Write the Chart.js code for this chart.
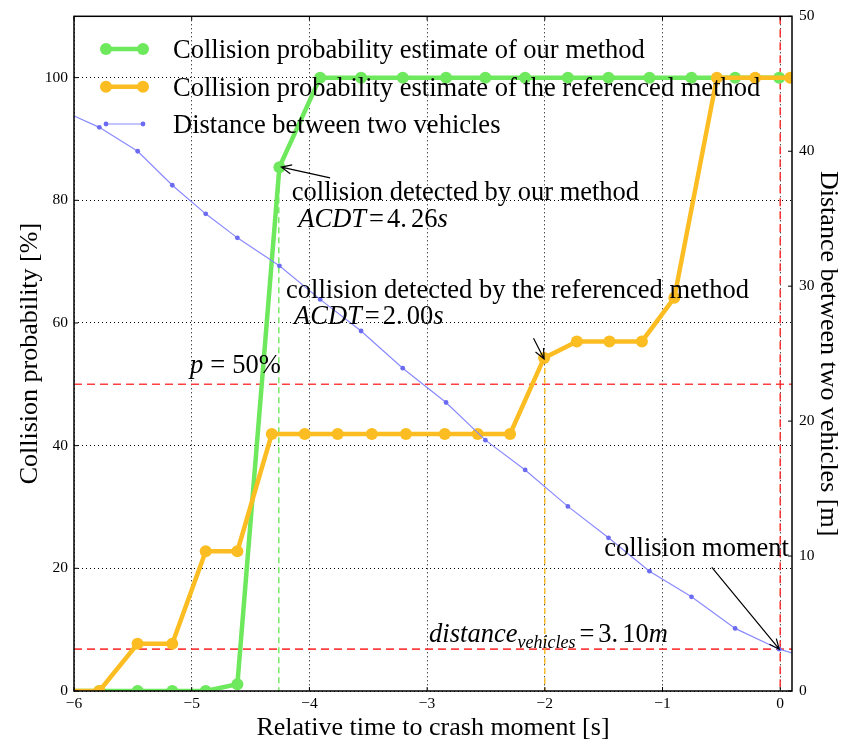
<!DOCTYPE html>
<html>
<head>
<meta charset="utf-8">
<script src="https://cdn.jsdelivr.net/npm/chart.js@4.4.0/dist/chart.umd.min.js"></script>
<style>
  html, body { margin: 0; padding: 0; background: #fff; }
  canvas { display: block; }
</style>
</head>
<body>
<canvas id="crash-chart" width="848" height="744"></canvas>
<script>
var
	// time stamps shared by our estimate and the distance log [s]
	timeSteps = [-6.07, -5.785, -5.459, -5.165, -4.881, -4.612, -4.255, -3.909, -3.561, -3.207,
		-2.839, -2.505, -2.167, -1.804, -1.459, -1.111, -0.754, -0.383, -0.009, 0.36],
	probOurs = [0, 0, 0, 0, 0, 1.1, 85.4, 100, 100, 100,
		100, 100, 100, 100, 100, 100, 100, 100, 100, 100],
	distanceVals = [42.9, 41.77, 40.0, 37.48, 35.36, 33.58, 31.51, 29.02, 26.68, 23.92,
		21.38, 18.59, 16.38, 13.68, 11.35, 8.88, 6.98, 4.64, 3.10, 2.2],
	// the referenced method reports on its own clock
	timeRef = [-6.07, -5.785, -5.46, -5.165, -4.881, -4.612, -4.32, -4.04, -3.76, -3.47, -3.18,
		-2.85, -2.57, -2.295, -2.006, -1.728, -1.451, -1.175, -0.90, -0.538, -0.213, 0.085],
	probRef = [0, 0, 7.7, 7.7, 22.8, 22.8, 41.9, 41.9, 41.9, 41.9, 41.9,
		41.9, 41.9, 41.9, 54.3, 57.0, 57.0, 57.0, 64.1, 100, 100, 100],
	seriesLabels = [
		"Collision probability estimate of our method",
		"Collision probability estimate of the referenced method",
		"Distance between two vehicles"
	],
	timeRange = [-6, 0.1], timeStep = 1,
	probRange = [0, 110], probStep = 20,
	distRange = [0, 50], distStep = 10,
	thresholdProb = 50, thresholdDist = 3.10,
	detectOurs = -4.26, detectRef = -2.0;

var
	green = "#6ee85c",
	orange = "#fbbd22",
	blue = "#8a8aff",
	blueDot = "#6b6bf2",
	red = "rgba(255, 30, 30, 0.85)",
	serif = '"Liberation Serif", "Times New Roman", serif',
	textSize = 26.5;

function toPoints(xs, ys) {
	return xs.map(function (x, i) { return { x: x, y: ys[i] }; });
}

function minusLabel(v) {
	return v < 0 ? "\u2212" + Math.abs(v) : String(v);
}

// mixed roman / italic strings, the way mathtext sets them
function drawRich(ctx, x, y, parts) {
	parts.forEach(function (p) {
		var size = p.size || textSize;
		ctx.font = (p.italic ? "italic " : "") + size + "px " + serif;
		x += p.before || 0;
		ctx.fillText(p.text, x, y + (p.dy || 0));
		x += ctx.measureText(p.text).width + (p.after || 0);
	});
}

function arrow(ctx, x1, y1, x2, y2) {
	var a = Math.atan2(y2 - y1, x2 - x1), len = 11, spread = 0.42;
	ctx.beginPath();
	ctx.moveTo(x1, y1);
	ctx.lineTo(x2, y2);
	ctx.moveTo(x2 - len * Math.cos(a - spread), y2 - len * Math.sin(a - spread));
	ctx.lineTo(x2, y2);
	ctx.lineTo(x2 - len * Math.cos(a + spread), y2 - len * Math.sin(a + spread));
	ctx.stroke();
}

var guideLines = {
	id: "guideLines",
	beforeDatasetsDraw: function (chart) {
		var ctx = chart.ctx, a = chart.chartArea,
			sx = chart.scales.x, sy = chart.scales.y, sd = chart.scales.y1;
		ctx.save();
		ctx.lineWidth = 1.6;
		ctx.setLineDash([8, 5]);
		ctx.strokeStyle = red;
		var yp = sy.getPixelForValue(thresholdProb),
			yd = sd.getPixelForValue(thresholdDist),
			x0 = sx.getPixelForValue(0);
		ctx.beginPath();
		ctx.moveTo(a.left, yp); ctx.lineTo(a.right, yp);
		ctx.moveTo(a.left, yd); ctx.lineTo(a.right, yd);
		ctx.moveTo(x0, a.top); ctx.lineTo(x0, a.bottom);
		ctx.stroke();

		ctx.setLineDash([6, 4]);
		ctx.lineWidth = 1.4;
		ctx.strokeStyle = green;
		var xg = sx.getPixelForValue(detectOurs);
		ctx.beginPath();
		ctx.moveTo(xg, sy.getPixelForValue(probOurs[6])); ctx.lineTo(xg, a.bottom);
		ctx.stroke();
		ctx.strokeStyle = orange;
		var xo = sx.getPixelForValue(detectRef);
		ctx.beginPath();
		ctx.moveTo(xo, sy.getPixelForValue(probRef[14])); ctx.lineTo(xo, a.bottom);
		ctx.stroke();
		ctx.restore();
	},
	afterDatasetsDraw: function (chart) {
		var ctx = chart.ctx, a = chart.chartArea,
			sx = chart.scales.x, sy = chart.scales.y, sd = chart.scales.y1;
		ctx.save();

		// frame and inward ticks
		ctx.strokeStyle = "#000";
		ctx.lineWidth = 1.5;
		ctx.strokeRect(a.left, a.top, a.right - a.left, a.bottom - a.top);
		ctx.lineWidth = 1;
		ctx.beginPath();
		sx.ticks.forEach(function (t) {
			var p = sx.getPixelForValue(t.value);
			ctx.moveTo(p, a.bottom); ctx.lineTo(p, a.bottom - 4);
			ctx.moveTo(p, a.top); ctx.lineTo(p, a.top + 4);
		});
		sy.ticks.forEach(function (t) {
			var p = sy.getPixelForValue(t.value);
			ctx.moveTo(a.left, p); ctx.lineTo(a.left + 4, p);
		});
		sd.ticks.forEach(function (t) {
			var p = sd.getPixelForValue(t.value);
			ctx.moveTo(a.right, p); ctx.lineTo(a.right - 4, p);
		});
		ctx.stroke();

		// annotations
		ctx.fillStyle = "#000";
		ctx.textBaseline = "alphabetic";
		ctx.textAlign = "left";
		drawRich(ctx, sx.getPixelForValue(-4.15), sy.getPixelForValue(80),
			[{ text: "collision detected by our method" }]);
		drawRich(ctx, sx.getPixelForValue(-4.094), sy.getPixelForValue(75.6), [
			{ text: "ACDT", italic: true },
			{ text: "=", before: 3, after: 3 },
			{ text: "4.", after: 4 }, { text: "26" }, { text: "s", italic: true }
		]);
		drawRich(ctx, sx.getPixelForValue(-4.198), sy.getPixelForValue(64.1),
			[{ text: "collision detected by the referenced method" }]);
		drawRich(ctx, sx.getPixelForValue(-4.13), sy.getPixelForValue(59.8), [
			{ text: "ACDT", italic: true },
			{ text: "=", before: 3, after: 3 },
			{ text: "2.", after: 4 }, { text: "00" }, { text: "s", italic: true }
		]);
		drawRich(ctx, sx.getPixelForValue(-5.014), sy.getPixelForValue(51.9), [
			{ text: "p", italic: true },
			{ text: "=", before: 7, after: 7 },
			{ text: "50%" }
		]);
		drawRich(ctx, sx.getPixelForValue(-1.496), sd.getPixelForValue(10.04),
			[{ text: "collision moment" }]);
		drawRich(ctx, sx.getPixelForValue(-2.983), sd.getPixelForValue(3.62), [
			{ text: "distance", italic: true },
			{ text: "vehicles", italic: true, size: 18, dy: 6 },
			{ text: "=", before: 4, after: 4 },
			{ text: "3.", after: 4 }, { text: "10" }, { text: "m", italic: true }
		]);

		ctx.lineWidth = 1.2;
		ctx.strokeStyle = "#000";
		arrow(ctx, sx.getPixelForValue(-3.824), sy.getPixelForValue(83.66),
			sx.getPixelForValue(timeSteps[6]) + 2, sy.getPixelForValue(probOurs[6]));
		arrow(ctx, sx.getPixelForValue(-2.096), sy.getPixelForValue(57.5),
			sx.getPixelForValue(timeRef[14]), sy.getPixelForValue(probRef[14]) + 1);
		arrow(ctx, sx.getPixelForValue(-0.581), sd.getPixelForValue(9.17),
			sx.getPixelForValue(0) - 1, sd.getPixelForValue(thresholdDist));
		ctx.restore();
	},
	afterDraw: function (chart) {
		// legend: a short line with a marker on each end
		var ctx = chart.ctx, rows = [49, 86.7, 124],
			sets = chart.data.datasets;
		ctx.save();
		rows.forEach(function (y, i) {
			var ds = sets[i];
			ctx.strokeStyle = ds.borderColor;
			ctx.lineWidth = ds.borderWidth;
			ctx.beginPath();
			ctx.moveTo(106, y); ctx.lineTo(143, y);
			ctx.stroke();
			ctx.fillStyle = ds.pointBackgroundColor;
			[106, 143].forEach(function (x) {
				ctx.beginPath();
				ctx.arc(x, y, ds.pointRadius, 0, Math.PI * 2);
				ctx.fill();
			});
			ctx.fillStyle = "#000";
			ctx.font = textSize + "px " + serif;
			ctx.textBaseline = "alphabetic";
			ctx.fillText(ds.label, 173, y + 9.3);
		});
		ctx.restore();
	}
};

var tickFont = { family: serif, size: 15.5 },
	titleFont = { family: serif, size: 26 };

new Chart(document.getElementById("crash-chart").getContext("2d"), {
	type: "line",
	data: {
		datasets: [{
			label: seriesLabels[0],
			data: toPoints(timeSteps, probOurs),
			yAxisID: "y",
			borderColor: green,
			pointBackgroundColor: green,
			borderWidth: 4.5,
			pointRadius: 6,
			pointBorderWidth: 0,
			order: 2
		}, {
			label: seriesLabels[1],
			data: toPoints(timeRef, probRef),
			yAxisID: "y",
			borderColor: orange,
			pointBackgroundColor: orange,
			borderWidth: 4.5,
			pointRadius: 6,
			pointBorderWidth: 0,
			order: 1
		}, {
			label: seriesLabels[2],
			data: toPoints(timeSteps, distanceVals),
			yAxisID: "y1",
			borderColor: blue,
			pointBackgroundColor: blueDot,
			borderWidth: 1.2,
			pointRadius: 2.4,
			pointBorderWidth: 0,
			order: 0
		}]
	},
	plugins: [guideLines],
	options: {
		responsive: false,
		animation: false,
		devicePixelRatio: 1,
		events: [],
		tension: 0,
		layout: { padding: { top: 15, left: 0, right: 0, bottom: 0 } },
		plugins: {
			legend: { display: false },
			tooltip: { enabled: false }
		},
		scales: {
			x: {
				type: "linear",
				min: timeRange[0],
				max: timeRange[1],
				ticks: {
					stepSize: timeStep, includeBounds: false, maxRotation: 0,
					font: tickFont, color: "#000", padding: 4,
					callback: minusLabel
				},
				grid: { color: "#000", lineWidth: 1, drawTicks: false },
				border: { display: false, dash: [1, 3] },
				title: {
					display: true, text: "Relative time to crash moment [s]",
					font: titleFont, color: "#000", padding: { top: 0, bottom: 0 }
				},
				afterFit: function (s) { s.height = 53; }
			},
			y: {
				position: "left",
				min: probRange[0],
				max: probRange[1],
				ticks: {
					stepSize: probStep, includeBounds: false,
					font: tickFont, color: "#000", padding: 6
				},
				grid: { color: "#000", lineWidth: 1, drawTicks: false },
				border: { display: false, dash: [1, 3] },
				title: {
					display: true, text: "Collision probability [%]",
					font: titleFont, color: "#000", padding: { top: 15, bottom: 0 }
				},
				afterFit: function (s) { s.width = 74; }
			},
			y1: {
				position: "right",
				min: distRange[0],
				max: distRange[1],
				ticks: {
					stepSize: distStep, includeBounds: false,
					font: tickFont, color: "#000", padding: 7
				},
				grid: { drawOnChartArea: false, drawTicks: false },
				border: { display: false },
				title: {
					display: true, text: "Distance between two vehicles [m]",
					font: titleFont, color: "#000", padding: { top: 5, bottom: 0 }
				},
				afterFit: function (s) { s.width = 56; }
			}
		}
	}
});
</script>
</body>
</html>
